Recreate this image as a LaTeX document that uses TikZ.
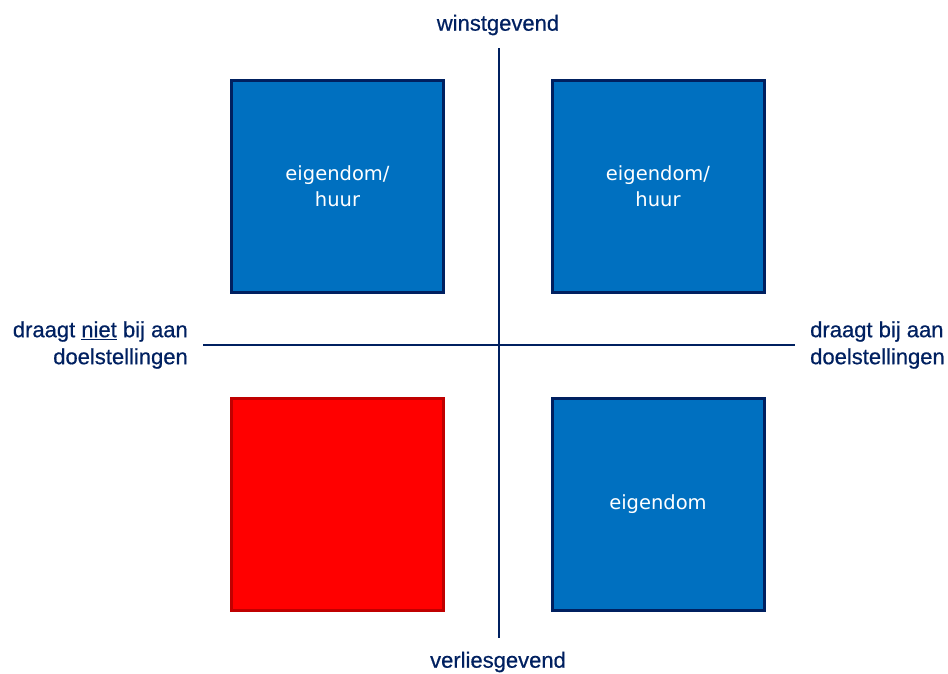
\documentclass[tikz,border=0pt]{standalone}
\usepackage{fontspec}
\setmainfont{Liberation Sans}
\newfontfamily\boxfont{DejaVu Sans}
\newfontfamily\labelfont[FakeBold=0.6]{Liberation Sans}
\definecolor{navy}{HTML}{002060}
\definecolor{boxblue}{HTML}{0070C0}
\definecolor{boxred}{HTML}{FF0000}
\definecolor{darkred}{HTML}{C00000}
\begin{document}
\begin{tikzpicture}[x=1pt,y=-1pt,
  quad/.style={draw=navy, fill=boxblue, line width=3pt, minimum size=212pt,
    inner sep=0pt, text=white, align=center,
    font=\boxfont\fontsize{19.5}{26}\selectfont},
  badquad/.style={quad, draw=darkred, fill=boxred},
  axis/.style={draw=navy, line width=2.6pt},
  axislabel/.style={text=navy, inner sep=0pt,
    font=\labelfont\fontsize{22}{27}\selectfont}]
  \useasboundingbox (0,0) rectangle (948,673);
  % quadrant boxes
  \node[quad] (tl) at (337.5,186.5) {eigendom/\\huur};
  \node[quad] (tr) at (658,186.5) {eigendom/\\huur};
  \node[badquad] (bl) at (337.5,504) {};
  \node[quad] (br) at (658,504) {eigendom};
  % axes
  \coordinate (top) at (499,48);
  \coordinate (bottom) at (499,638);
  \coordinate (left) at (203,345);
  \coordinate (right) at (795,345);
  \draw[axis] (top) -- (bottom);
  \draw[axis] (left) -- (right);
  % axis labels
  \node[axislabel] (win) at (498,25) {winstgevend};
  \node[axislabel] (loss) at (498,662) {verliesgevend};
  \node[axislabel, anchor=east, align=right] (no) at (188,345)
    {draagt \underline{niet} bij aan\\doelstellingen};
  \node[axislabel, anchor=west, align=left] (yes) at (810,345)
    {draagt bij aan\\doelstellingen};
\end{tikzpicture}
\end{document}
